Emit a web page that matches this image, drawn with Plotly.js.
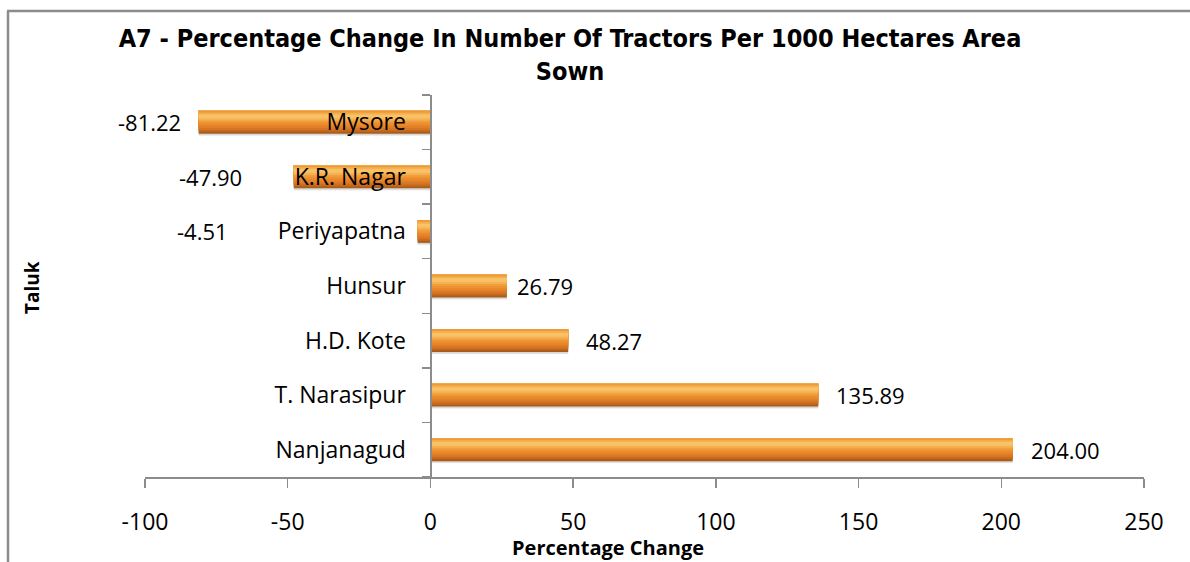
<!DOCTYPE html>
<html>
<head>
<meta charset="utf-8">
<script src="https://cdn.plot.ly/plotly-3.0.1.min.js"></script>
<style>
html,body{margin:0;padding:0;background:#fff;}
#chart{width:1190px;height:562px;}
</style>
</head>
<body>
<div id="chart"></div>
<script>
// ---- data ----
const taluks = ["Nanjanagud", "T. Narasipur", "H.D. Kote", "Hunsur", "Periyapatna", "K.R. Nagar", "Mysore"];
const pctChange = [204.00, 135.89, 48.27, 26.79, -4.51, -47.90, -81.22];
const valueLabels = ["204.00", "135.89", "48.27", "26.79", "-4.51", "-47.90", "-81.22"];
const xTickVals = [-100, -50, 0, 50, 100, 150, 200, 250];
const xTickText = ["-100", "-50", "0", "50", "100", "150", "200", "250"];

// ---- style ----
const labelShift = [16, 16, 16, 8, -188, -50, -16]; // pixel offsets of value labels
const FONT = "'Open Sans', 'Noto Sans', sans-serif";
const AXIS_GREY = "#8c8c8c";
// vertical gradient of the bars, bottom -> top
const bandColors = ["#A95C1B", "#C46A1F", "#D67523", "#E17F27", "#E9882B", "#EE9131",
                    "#F19E3E", "#F5B052", "#F8C065", "#F9C469", "#F5B150", "#EF9A38"];

const W = 1190, H = 562;
const L = 145, R = 46, T = 95, B = 85;
const PW = W - L - R, PH = H - T - B;
const xRange = [-100, 250];
const px = (p) => (p - L) / PW;          // page x -> paper x
const py = (p) => (H - B - p) / PH;      // page y -> paper y

function layer(offset, width, color) {
  return {
    type: "bar", orientation: "h",
    x: pctChange, y: taluks,
    offset: offset, width: width,
    marker: {color: color, line: {width: 0}},
    hoverinfo: "skip", showlegend: false
  };
}

const BAR_W = 0.42;
const slice = BAR_W / bandColors.length;
const traces = [
  layer(-0.25, 0.05, "rgba(0,0,0,0.07)"),   // soft shadow
  layer(-0.235, 0.03, "rgba(0,0,0,0.09)")
];
// each band reaches to the top of the bar, painted bottom-up, so no seams appear
bandColors.forEach((c, k) => {
  const start = -BAR_W / 2 + k * slice;
  traces.push(layer(start, BAR_W / 2 - start, c));
});

const annotations = pctChange.map((v, i) => ({
  x: v, y: taluks[i], xref: "x", yref: "y",
  text: valueLabels[i], showarrow: false,
  xanchor: v >= 0 ? "left" : "right",
  xshift: labelShift[i],
  font: {family: FONT, size: 22, color: "#000"}
}));

annotations.push({
  text: "<b>Taluk</b>", textangle: -90, showarrow: false,
  xref: "paper", yref: "paper", x: px(32), y: py(288),
  xanchor: "center", yanchor: "middle",
  font: {family: FONT, size: 19, color: "#000"}
});
annotations.push({
  text: "<b>Percentage Change</b>", showarrow: false,
  xref: "paper", yref: "paper", x: px(608), y: py(547),
  xanchor: "center", yanchor: "middle",
  font: {family: FONT, size: 20, color: "#000"}
});

const layout = {
  width: W, height: H,
  margin: {l: L, r: R, t: T, b: B, pad: 0},
  paper_bgcolor: "#fff", plot_bgcolor: "rgba(0,0,0,0)",
  barmode: "overlay",
  font: {family: FONT, size: 22, color: "#000"},
  title: {
    text: "<b>A7 - Percentage Change In Number Of Tractors Per 1000 Hectares Area<br>Sown</b>",
    x: 570 / W, xref: "container", xanchor: "center",
    y: 1 - 47 / H, yref: "container", yanchor: "top",
    font: {family: "'DejaVu Sans Condensed', 'Liberation Sans Narrow', sans-serif", size: 25, color: "#000"}
  },
  xaxis: {
    range: xRange, tickvals: xTickVals, ticktext: xTickText,
    showgrid: false, zeroline: false,
    showline: true, linecolor: AXIS_GREY, linewidth: 1.5,
    ticks: "outside", ticklen: 9, tickcolor: AXIS_GREY, tickwidth: 1.5,
    ticklabelstandoff: 15,
    tickfont: {family: FONT, size: 23, color: "#000"},
    fixedrange: true
  },
  yaxis: {
    type: "category", categoryorder: "array", categoryarray: taluks,
    anchor: "free", position: (0 - xRange[0]) / (xRange[1] - xRange[0]),
    showgrid: false, zeroline: false,
    showline: true, linecolor: AXIS_GREY, linewidth: 1.5,
    ticks: "outside", ticklen: 8, tickcolor: AXIS_GREY, tickwidth: 1.5,
    tickson: "boundaries",
    ticklabelstandoff: 20,
    tickfont: {family: FONT, size: 23, color: "#000"},
    fixedrange: true
  },
  shapes: [
    {type: "line", xref: "paper", yref: "paper", x0: px(8), x1: px(8), y0: py(11), y1: py(H + 5),
     line: {color: AXIS_GREY, width: 2.5}},
    {type: "line", xref: "paper", yref: "paper", x0: px(7), x1: px(W + 5), y0: py(11), y1: py(11),
     line: {color: AXIS_GREY, width: 2.5}}
  ],
  annotations: annotations,
  hovermode: false
};

Plotly.newPlot("chart", traces, layout, {staticPlot: true, displayModeBar: false});
</script>
</body>
</html>
